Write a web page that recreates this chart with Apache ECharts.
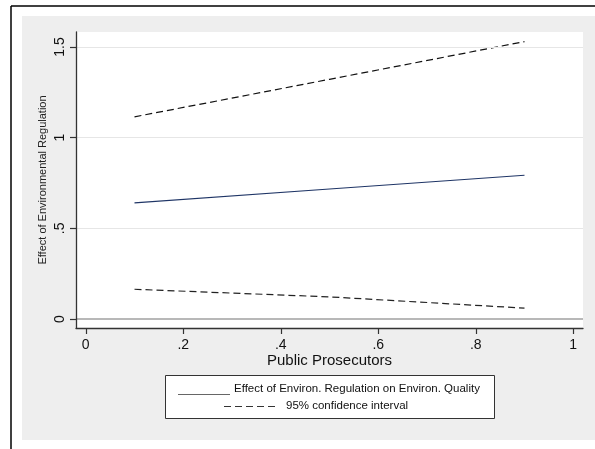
<!DOCTYPE html>
<html>
<head>
<meta charset="utf-8">
<script src="https://cdn.jsdelivr.net/npm/echarts@6/dist/echarts.min.js"></script>
<style>
  html, body { margin: 0; padding: 0; background: #fff; }
  #main { width: 595px; height: 449px; }
</style>
</head>
<body>
<div id="main"></div>
<script>
// data
var prosecutors = [0.1, 0.5, 0.9];
var effect = [0.64, 0.717, 0.793];
var ciUpper = [1.115, 1.322, 1.53];
var ciLower = [0.164, 0.122, 0.06];
var xTicks = [0, 0.2, 0.4, 0.6, 0.8, 1];
var yTicks = [0, 0.5, 1, 1.5];
var legendNames = ['Effect of Environ. Regulation on Environ. Quality', '95% confidence interval'];

function pairs(xs, ys) {
  return xs.map(function (x, i) { return [x, ys[i]]; });
}
function fmt(v) {
  // stata style: .2 instead of 0.2
  if (v === 0) return '0';
  var s = String(v);
  return s.indexOf('0.') === 0 ? s.slice(1) : s;
}

var font = 'Liberation Sans, Arial, sans-serif';
var myChart = echarts.init(document.getElementById('main'));
var option = {
  backgroundColor: '#fff',
  animation: false,
  grid: { left: 76, top: 32, right: 12, bottom: 121, show: true, backgroundColor: '#fff', borderWidth: 0, z: 0 },
  xAxis: {
    type: 'value', min: -0.02, max: 1.02, z: 5,
    name: 'Public Prosecutors', nameLocation: 'middle', nameGap: 25, nameMoveOverlap: false,
    nameTextStyle: { fontFamily: font, fontSize: 15, color: '#111' },
    axisLine: { show: true, onZero: false, lineStyle: { color: '#333', width: 1.3 } },
    axisTick: { show: true, customValues: xTicks, length: 6, lineStyle: { color: '#333', width: 1.2 } },
    axisLabel: { customValues: xTicks, formatter: fmt, fontFamily: font, fontSize: 14, color: '#111', margin: 10 },
    splitLine: { show: false }
  },
  yAxis: {
    type: 'value', min: -0.0496, max: 1.583, z: 5,
    name: 'Effect of Environmental Regulation', nameLocation: 'middle', nameGap: 28, nameMoveOverlap: false,
    nameTextStyle: { fontFamily: font, fontSize: 11, color: '#222' },
    axisLine: { show: true, onZero: false, lineStyle: { color: '#333', width: 1.3 } },
    axisTick: { show: true, customValues: yTicks, length: 6, lineStyle: { color: '#333', width: 1.2 } },
    axisLabel: { customValues: yTicks, formatter: fmt, rotate: 90, fontFamily: font, fontSize: 14, color: '#111', margin: 9 },
    splitLine: { show: false }
  },
  graphic: [
    { type: 'rect', z: -10, silent: true, shape: { x: 22, y: 16, width: 573, height: 424 }, style: { fill: '#eeeeee' } },
    { type: 'line', z: 10, silent: true, shape: { x1: 11, y1: 6, x2: 595, y2: 6 }, style: { stroke: '#000', lineWidth: 1.5 } },
    { type: 'line', z: 10, silent: true, shape: { x1: 11, y1: 6, x2: 11, y2: 449 }, style: { stroke: '#000', lineWidth: 1.5 } },
    { type: 'rect', silent: true, shape: { x: 165.5, y: 375.5, width: 329, height: 43 }, style: { fill: '#fff', stroke: '#333', lineWidth: 1 } },
    { type: 'line', silent: true, shape: { x1: 178, y1: 394.5, x2: 230, y2: 394.5 }, style: { stroke: '#666', lineWidth: 1 } },
    { type: 'text', silent: true, x: 234, y: 389, style: { text: legendNames[0], fontFamily: font, fontSize: 11.5, fill: '#111', verticalAlign: 'middle' } },
    { type: 'line', silent: true, shape: { x1: 224, y1: 406.5, x2: 279, y2: 406.5 }, style: { stroke: '#333', lineWidth: 1.2, lineDash: [7, 4] } },
    { type: 'text', silent: true, x: 286, y: 406, style: { text: legendNames[1], fontFamily: font, fontSize: 11.5, fill: '#111', verticalAlign: 'middle' } }
  ],
  series: [
    {
      // grid lines
      type: 'line', data: [], silent: true,
      markLine: {
        silent: true, symbol: 'none', label: { show: false },
        data: yTicks.map(function (v) {
          return { yAxis: v, lineStyle: v === 0 ? { color: '#b8b8b8', width: 2, type: 'solid' } : { color: '#e6e6e6', width: 1, type: 'solid' } };
        })
      }
    },
    { name: legendNames[0], type: 'line', data: pairs(prosecutors, effect), showSymbol: false, lineStyle: { color: '#1f3566', width: 1.2 } },
    { name: legendNames[1], type: 'line', data: pairs(prosecutors, ciUpper), showSymbol: false, lineStyle: { color: '#111', width: 1.2, type: [7, 4] } },
    { name: legendNames[1], type: 'line', data: pairs(prosecutors, ciLower), showSymbol: false, lineStyle: { color: '#222', width: 1.2, type: [7, 4] } }
  ]
};
myChart.setOption(option);
</script>
</body>
</html>
